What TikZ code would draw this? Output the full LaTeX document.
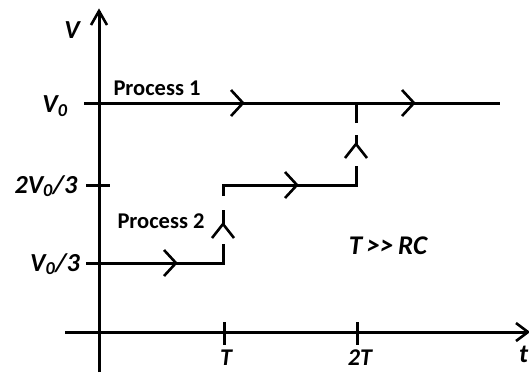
\documentclass[tikz,border=0pt]{standalone}
\usepackage{fontspec}
\setmainfont{Carlito}
\usetikzlibrary{calc}
\tikzset{
  ln/.style={line width=3pt},
  chev/.style={line width=2.6pt, line join=miter},
  lbl/.style={font=\fontsize{26}{28}\selectfont\bfseries\itshape, inner sep=0pt},
  proc/.style={font=\fontsize{22.5}{24}\selectfont\bfseries, inner sep=0pt},
}
\newcommand{\chevR}[1]{\draw[chev] ($(#1)+(-12,-13)$) -- (#1) -- ($(#1)+(-12,13)$);}
\newcommand{\chevU}[1]{\draw[chev] ($(#1)+(-11,14)$) -- (#1) -- ($(#1)+(11,14)$);}
\begin{document}
\begin{tikzpicture}[x=1pt,y=-1pt]
\useasboundingbox (0,0) rectangle (529,376);
% axes
\coordinate (ybot) at (99,372);
\coordinate (ytop) at (99,11);
\coordinate (xl) at (65,332);
\coordinate (xr) at (528,332);
\draw[ln] (ybot) -- (ytop);
\draw[ln] (xl) -- (xr);
\draw[chev] ($(ytop)+(-8,14)$) -- (ytop) -- ($(ytop)+(8,14)$);
\draw[chev] ($(xr)+(-12,-9)$) -- (xr) -- ($(xr)+(-12,9)$);
% ticks on t axis
\coordinate (T) at (224,332);
\coordinate (TT) at (357,332);
\draw[ln] ($(T)+(0,-10)$) -- ($(T)+(0,13)$);
\draw[ln] ($(TT)+(0,-10)$) -- ($(TT)+(0,13)$);
% tick labels
\node[lbl, font=\fontsize{24}{26}\selectfont\bfseries\itshape] (lT) at (226,358) {T};
\node[lbl, font=\fontsize{24}{26}\selectfont\bfseries\itshape] (lTT) at (360,358) {2T};
\node[lbl, anchor=west] (lt) at (519,354) {t};
\node[lbl] (lV) at (72,30) {V};
\node[lbl] (lV0) at (55,106) {V\textsubscript{0}};
\node[lbl] (l2V) at (46,186) {2V\textsubscript{0}/3};
\node[lbl] (l1V) at (55,264) {V\textsubscript{0}/3};
% Process 1
\coordinate (p1a) at (84,103);
\coordinate (p1b) at (500,103);
\draw[ln] (p1a) -- (p1b);
\coordinate (a1) at (243,103);
\coordinate (a2) at (414,103);
\chevR{a1}
\chevR{a2}
\node[proc] (P1) at (157,88) {Process 1};
% y ticks
\coordinate (t2a) at (86,185);
\coordinate (t2b) at (110,185);
\draw[ln] (t2a) -- (t2b);
% Process 2
\coordinate (q0) at (86,263);
\coordinate (q1) at (223,263);
\coordinate (q2) at (223,185);
\coordinate (q3) at (356,185);
\coordinate (q4) at (356,103);
\draw[ln] (q0) -- (q1) -- (223,244);
\draw[ln] (223,210) -- (223,226);
\draw[ln] (223,196) -- (q2) -- (q3) -- (356,166);
\draw[ln] (356,135) -- (356,146);
\draw[ln] (356,123) -- (q4);
\coordinate (b1) at (176,263);
\coordinate (b2) at (297,185);
\coordinate (c1) at (223,224);
\coordinate (c2) at (356,144);
\chevR{b1}
\chevR{b2}
\chevU{c1}
\chevU{c2}
\node[proc] (P2) at (161,221) {Process 2};
\node[lbl, font=\fontsize{27}{29}\selectfont\bfseries\itshape] (cond) at (388,246) {T\,>{}>\,RC};
\end{tikzpicture}
\end{document}
